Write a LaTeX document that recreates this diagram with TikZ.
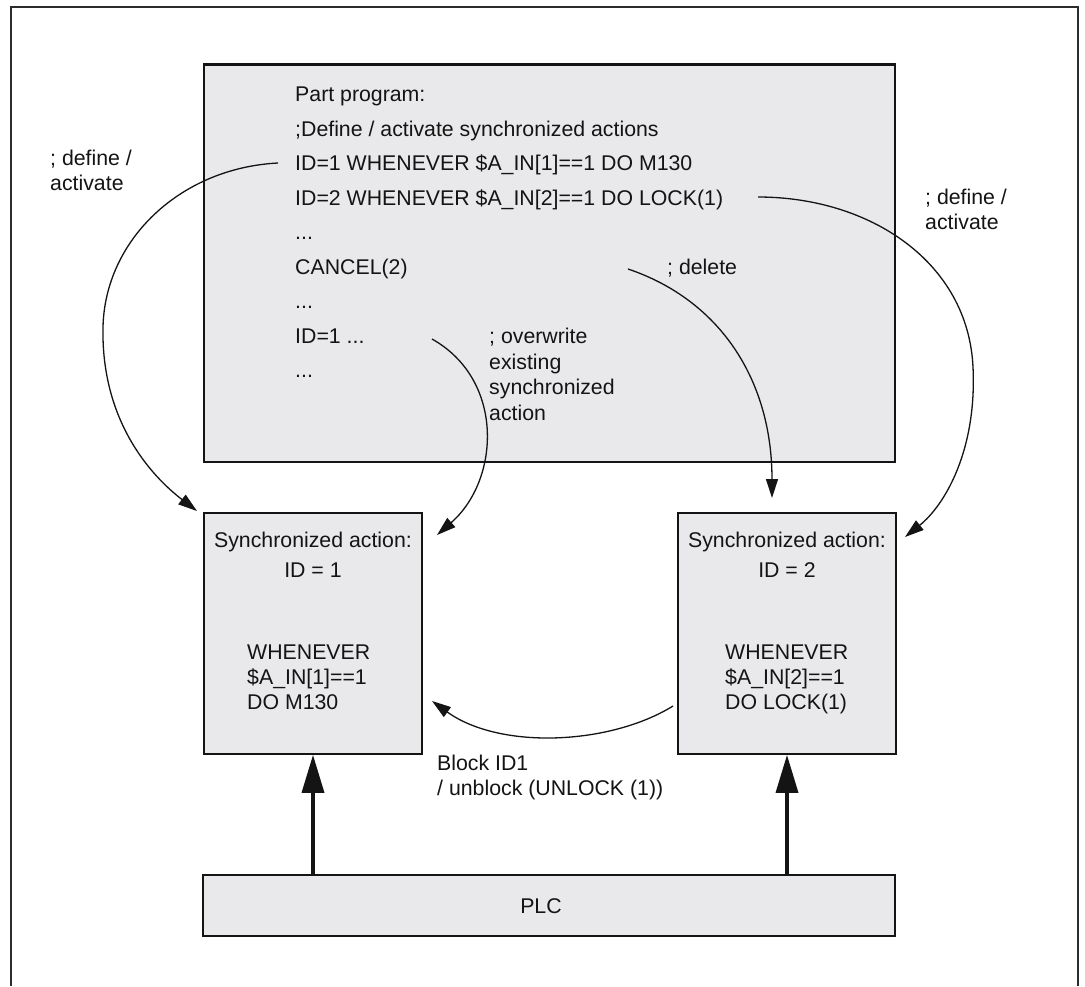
\documentclass[tikz,border=0pt]{standalone}
\usepackage{fontspec}
\setmainfont{Liberation Sans}
\usetikzlibrary{arrows.meta}
\definecolor{boxfill}{RGB}{233,233,235}
\definecolor{ink}{RGB}{20,20,20}
\begin{document}
\begin{tikzpicture}[x=1pt,y=-1pt,
  txt/.style={font=\fontsize{21.3}{25}\selectfont, inner sep=0pt, text height=15pt, text depth=0pt, anchor=west, text=ink},
  ctxt/.style={txt, anchor=center},
  bigbox/.style={draw=ink, fill=boxfill, line width=2.7pt, inner sep=0pt},
  smallbox/.style={draw=ink, fill=boxfill, line width=1.7pt, inner sep=0pt},
  frameline/.style={draw=ink!90, line width=1.5pt},
  conn/.style={draw=ink, line width=1.3pt, -{Triangle[length=19pt,width=12pt]}},
  thickarrow/.style={draw=ink, line width=3.5pt, -{Triangle[length=38pt,width=22pt]}}
]
\useasboundingbox (0,0) rectangle (1085,986);
\fill[white] (0,0) rectangle (1085,986);
% outer frame
\draw[frameline] (11,986) -- (11,7) -- (1078,7) -- (1078,986);

% boxes
\node[bigbox, minimum width=691pt, minimum height=397.5pt] (prog) at (549.5,263.25) {};
\node[smallbox, minimum width=218pt, minimum height=241pt] (sa1) at (313,633.5) {};
\node[smallbox, minimum width=218pt, minimum height=241pt] (sa2) at (787,633.5) {};
\node[smallbox, minimum width=692pt, minimum height=61pt] (plc) at (549,905.5) {};

% part program lines
\node[txt] (l1) at (295,94) {Part program:};
\node[txt] (l2) at (295,128.5) {;Define / activate synchronized actions};
\node[txt] (l3) at (295,163) {ID=1 WHENEVER \$A\_IN[1]==1 DO M130};
\node[txt] (l4) at (295,197.5) {ID=2 WHENEVER \$A\_IN[2]==1 DO LOCK(1)};
\node[txt] (l5) at (295,232) {...};
\node[txt] (l6) at (295,267) {CANCEL(2)};
\node[txt] (l7) at (295,301) {...};
\node[txt] (l8) at (295,336) {ID=1 ...};
\node[txt] (l9) at (295,370) {...};

% comments
\node[txt] (ow1) at (489,336) {; overwrite};
\node[txt] (ow2) at (489,361.5) {existing};
\node[txt] (ow3) at (489,387) {synchronized};
\node[txt] (ow4) at (489,412.5) {action};
\node[txt] (del) at (667,267) {; delete};
\node[txt] (dl1) at (50,158) {; define /};
\node[txt] (dl2) at (50,183) {activate};
\node[txt] (dr1) at (925,197) {; define /};
\node[txt] (dr2) at (925,222) {activate};

% box texts
\node[ctxt] (s1a) at (313,540) {Synchronized action:};
\node[ctxt] (s1b) at (313,570) {ID = 1};
\node[txt] (s1c) at (247,652) {WHENEVER};
\node[txt] (s1d) at (247,677) {\$A\_IN[1]==1};
\node[txt] (s1e) at (247,702) {DO M130};
\node[ctxt] (s2a) at (787,540) {Synchronized action:};
\node[ctxt] (s2b) at (787,570) {ID = 2};
\node[txt] (s2c) at (725,652) {WHENEVER};
\node[txt] (s2d) at (725,677) {\$A\_IN[2]==1};
\node[txt] (s2e) at (725,702) {DO LOCK(1)};
\node[txt] (bl1) at (437,763) {Block ID1};
\node[txt] (bl2) at (437,788) {/ unblock (UNLOCK (1))};
\node[ctxt] (plct) at (541,906) {PLC};

% connector end points
\coordinate (a1s) at (278,163);
\coordinate (a1e) at (197,511);
\coordinate (a2s) at (758,197);
\coordinate (a2e) at (905,537);
\coordinate (a3s) at (628,269);
\coordinate (a3e) at (772,498);
\coordinate (a4s) at (432,339);
\coordinate (a4e) at (437,535);
\coordinate (a5s) at (673,706);
\coordinate (a5e) at (432,701);

\draw[conn] (a1s) .. controls (180,168) and (105,240) .. (103,327) .. controls (101,420) and (150,475) .. (a1e);
\draw[conn] (a2s) .. controls (870,197) and (968,262) .. (973,367) .. controls (977,450) and (945,505) .. (a2e);
\draw[conn] (a3s) .. controls (720,300) and (772,380) .. (a3e);
\draw[conn] (a4s) .. controls (505,380) and (500,480) .. (a4e);
\draw[conn] (a5s) .. controls (610,745) and (500,750) .. (a5e);

% PLC arrows
\draw[thickarrow] (plc.north -| sa1.south) -- (sa1.south);
\draw[thickarrow] (plc.north -| sa2.south) -- (sa2.south);
\end{tikzpicture}
\end{document}
